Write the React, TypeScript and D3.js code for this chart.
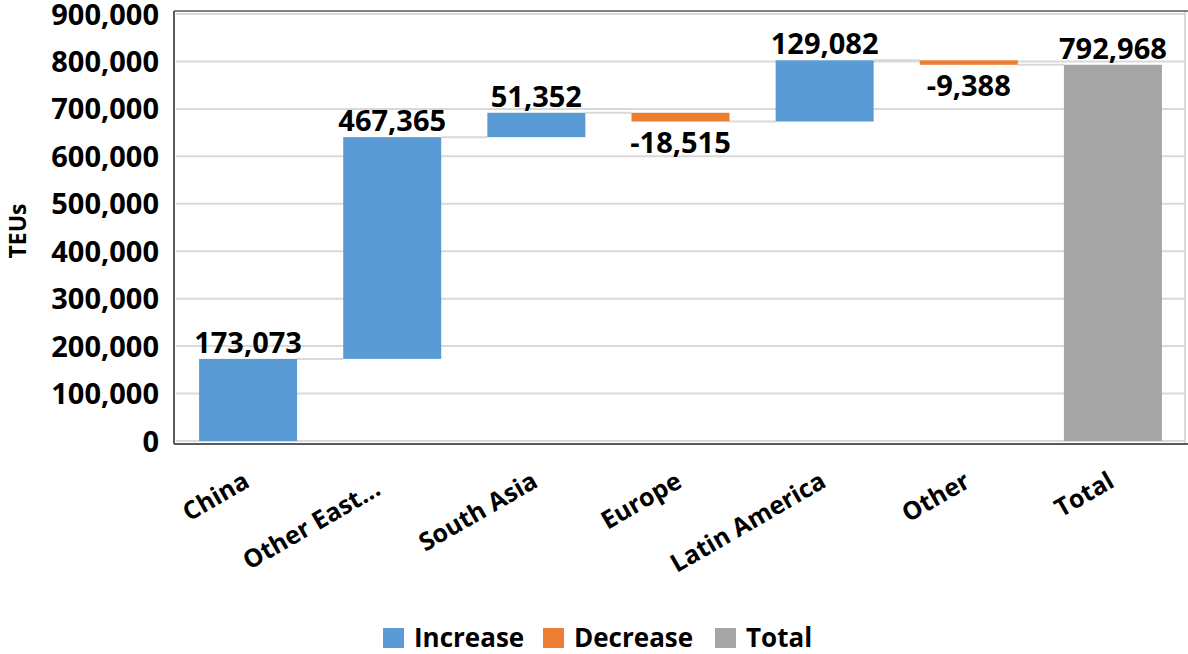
import React from "react";
import * as d3 from "d3";

const categories = ["China", "Other East...", "South Asia", "Europe", "Latin America", "Other", "Total"];
const values = [173073, 467365, 51352, -18515, 129082, -9388, 792968];
const isTotal = [false, false, false, false, false, false, true];
const yTicks = [0, 100000, 200000, 300000, 400000, 500000, 600000, 700000, 800000, 900000];
const legendItems = ["Increase", "Decrease", "Total"];

const W = 1188, H = 654;
const FONT = "'Open Sans', sans-serif";
const COLORS: Record<string, string> = { Increase: "#5B9BD5", Decrease: "#ED7D31", Total: "#A5A5A5" };

export default function App() {
  const x = d3.scaleBand<string>().domain(categories).range([176, 1185]).paddingInner(0.32).paddingOuter(0.16);
  const y = d3.scaleLinear().domain([0, 900000]).range([441, 14]);
  const f = d3.format(",");
  const fmt = (v: number) => f(v).replace("\u2212", "-");

  let cum = 0;
  const bars = categories.map((c, i) => {
    const v = values[i];
    let start: number, end: number, kind: string;
    if (isTotal[i]) {
      start = 0; end = v; kind = "Total";
    } else {
      start = cum; end = cum + v; cum = end; kind = v >= 0 ? "Increase" : "Decrease";
    }
    return { c, v, start, end, kind };
  });

  const bw = x.bandwidth();

  return (
    <svg width={W} height={H} style={{ position: "absolute", left: 0, top: 0, background: "#fff" }}>
      {/* gridlines */}
      {yTicks.map((t) => (
        <line key={t} x1={176} x2={1185} y1={y(t)} y2={y(t)} stroke="#d9d9d9" strokeWidth={2} />
      ))}
      {/* frame */}
      <line x1={1185} x2={1185} y1={11} y2={444} stroke="#d9d9d9" strokeWidth={2} />
      <line x1={174} x2={1188} y1={11} y2={11} stroke="#595959" strokeWidth={1.5} />
      <line x1={174} x2={1188} y1={444} y2={444} stroke="#595959" strokeWidth={2} />
      <line x1={174} x2={174} y1={11} y2={444} stroke="#595959" strokeWidth={2} />

      {/* connectors */}
      {bars.slice(0, -1).map((b, i) => {
        const x1 = (x(b.c) as number) + bw;
        const x2 = x(categories[i + 1]) as number;
        return <line key={"c" + i} x1={x1} x2={x2} y1={y(b.end)} y2={y(b.end)} stroke="#d9d9d9" strokeWidth={2} />;
      })}

      {/* bars */}
      {bars.map((b) => {
        const top = y(Math.max(b.start, b.end));
        const bot = y(Math.min(b.start, b.end));
        return <rect key={b.c} x={x(b.c)} y={top} width={bw} height={bot - top} fill={COLORS[b.kind]} />;
      })}

      {/* data labels */}
      {bars.map((b) => {
        const cx = (x(b.c) as number) + bw / 2;
        const top = y(Math.max(b.start, b.end));
        const bot = y(Math.min(b.start, b.end));
        const below = b.kind === "Decrease";
        return (
          <text key={"l" + b.c} x={cx} y={below ? bot + 31 : top - 6} textAnchor="middle"
            fontFamily={FONT} fontWeight="bold" fontSize={29} fill="#000">
            {fmt(b.v)}
          </text>
        );
      })}

      {/* y ticks */}
      {yTicks.map((t) => (
        <text key={"t" + t} x={159} y={y(t) + 10.5} textAnchor="end" fontFamily={FONT} fontWeight="bold" fontSize={29} fill="#000">
          {fmt(t)}
        </text>
      ))}

      {/* y title */}
      <text transform={`translate(26,231) rotate(-90)`} textAnchor="middle" fontFamily={FONT} fontWeight="bold" fontSize={23} fill="#000">
        TEUs
      </text>

      {/* x labels */}
      {categories.map((c) => {
        const cx = (x(c) as number) + bw / 2;
        const dx = c.endsWith("...") ? -15 : 0;
        return (
          <text key={"x" + c} transform={`translate(${cx + 3},${486}) rotate(-30)`} dx={dx} textAnchor="end"
            fontFamily={FONT} fontWeight="bold" fontSize={25} fill="#000">
            {c}
          </text>
        );
      })}

      {/* legend */}
      {legendItems.map((l, i) => {
        const lx = [383, 543, 715][i];
        return (
          <g key={"lg" + l}>
            <rect x={lx} y={628} width={21} height={20} fill={COLORS[l]} />
            <text x={lx + 31} y={647} fontFamily={FONT} fontWeight="bold" fontSize={26} fill="#000">{l}</text>
          </g>
        );
      })}
    </svg>
  );
}
